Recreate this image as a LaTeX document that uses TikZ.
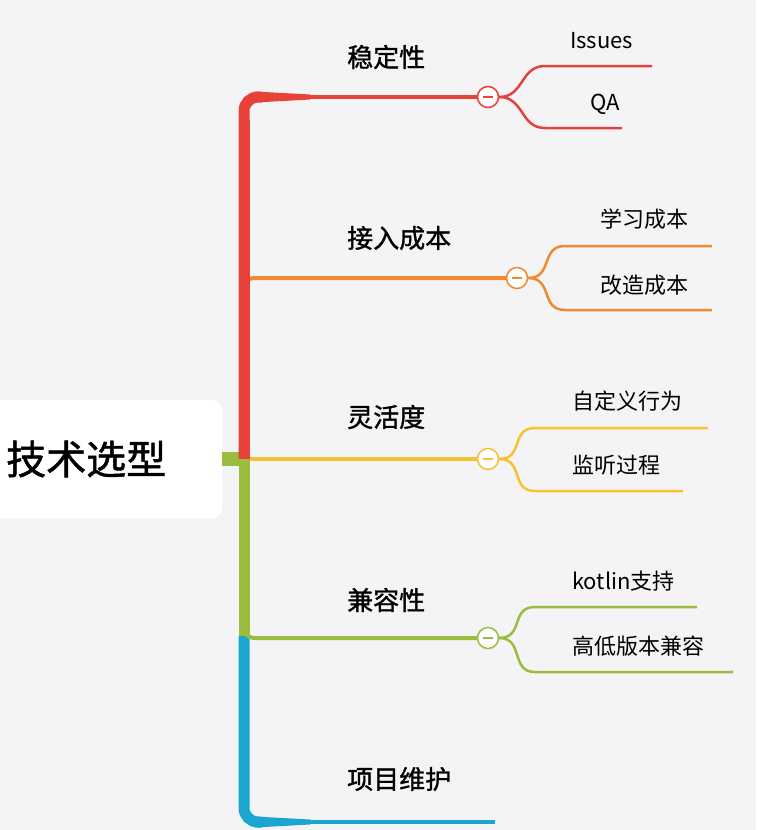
\documentclass[tikz,border=0pt]{standalone}
\usepackage{fontspec}
\setmainfont{Noto Sans CJK SC}
\newfontfamily\medf[FakeBold=1.2]{Noto Sans CJK SC}
\definecolor{bg}{HTML}{F4F4F6}
\definecolor{cr}{HTML}{E8413A}
\definecolor{co}{HTML}{F08A2C}
\definecolor{cy}{HTML}{F7C232}
\definecolor{cg}{HTML}{9BBD3E}
\definecolor{cb}{HTML}{1AA6D0}
\begin{document}
\begin{tikzpicture}[x=1pt,y=-1pt,
  main/.style={anchor=west,font=\fontsize{26}{28}\selectfont\medf,inner sep=0},
  sub/.style={anchor=west,font=\fontsize{22}{24}\selectfont,inner sep=0},
  tog/.style={circle,draw=#1,fill=white,line width=1.5pt,minimum size=21pt,inner sep=0,
    path picture={\draw[#1,line width=1.5pt] ([xshift=-5pt]path picture bounding box.center) -- ([xshift=5pt]path picture bounding box.center);}},
  br/.style={line width=4pt,#1},
  sb/.style={line width=2.5pt,#1}]
\fill[bg] (0,0) rectangle (756,830);
\useasboundingbox (0,0) rectangle (756,830);
\node[fill=white,rounded corners=10pt,minimum width=250pt,minimum height=118pt,anchor=west] (root) at (-28,459) {};
\node[anchor=west,font=\fontsize{40}{44}\selectfont\medf,inner sep=0] (rt) at (6,459) {技术选型};
\fill[cg] (222,452) rectangle (246,466);
% trunk
\draw[cr,line width=11pt,rounded corners=14pt] (244,459) -- (244,97) -- (262,97);
\draw[cg,line width=11pt] (244,459) -- (244,636);
\draw[cb,line width=11pt,rounded corners=14pt] (244,636) -- (244,822) -- (262,822);
% toggles
\node[tog=cr] (t1) at (488,97) {};
\node[tog=co] (t2) at (517,278) {};
\node[tog=cy] (t3) at (488,459) {};
\node[tog=cg] (t4) at (488,638) {};
\coordinate (b5) at (495,822);
\fill[cr] (255,91.5) -- (310,94.5) -- (310,99.5) -- (255,102.5) -- cycle;
\fill[cb] (255,816.5) -- (310,819.5) -- (310,824.5) -- (255,827.5) -- cycle;
\draw[br=cr] (300,97) -- (t1);
\draw[br=co,rounded corners=10pt] (244,295) -- (244,278) -- (t2);
\draw[br=cy] (250,459) -- (t3);
\draw[br=cg,rounded corners=10pt] (244,622) -- (244,638) -- (t4);
\draw[br=cb] (300,822) -- (b5);
\draw[cr,line width=11pt] (244,120) -- (244,459);
% labels
\node[main] (l1) at (347,57) {稳定性};
\node[main] (l2) at (347,238) {接入成本};
\node[main] (l3) at (347,417) {灵活度};
\node[main] (l4) at (347,600) {兼容性};
\node[main] (l5) at (347,779) {项目维护};
% sub-branches
\draw[sb=cr] (t1.east) .. controls +(25,0) and +(-25,0) .. (545,66) -- (652,66);
\draw[sb=cr] (t1.east) .. controls +(25,0) and +(-25,0) .. (545,128) -- (622,128);
\draw[sb=co] (t2.east) .. controls +(25,0) and +(-25,0) .. (565,246) -- (712,246);
\draw[sb=co] (t2.east) .. controls +(25,0) and +(-25,0) .. (565,310) -- (712,310);
\draw[sb=cy] (t3.east) .. controls +(25,0) and +(-25,0) .. (535,428) -- (708,428);
\draw[sb=cy] (t3.east) .. controls +(25,0) and +(-25,0) .. (535,491) -- (683,491);
\draw[sb=cg] (t4.east) .. controls +(25,0) and +(-25,0) .. (535,607) -- (697,607);
\draw[sb=cg] (t4.east) .. controls +(25,0) and +(-25,0) .. (535,672) -- (733,672);
\node[sub] (s1) at (570,41) {Issues};
\node[sub] (s2) at (590,104) {QA};
\node[sub] (s3) at (600,219) {学习成本};
\node[sub] (s4) at (600,285) {改造成本};
\node[sub] (s5) at (572,401) {自定义行为};
\node[sub] (s6) at (572,465) {监听过程};
\node[sub] (s7) at (572,581) {kotlin支持};
\node[sub] (s8) at (572,646) {高低版本兼容};
\end{tikzpicture}
\end{document}
